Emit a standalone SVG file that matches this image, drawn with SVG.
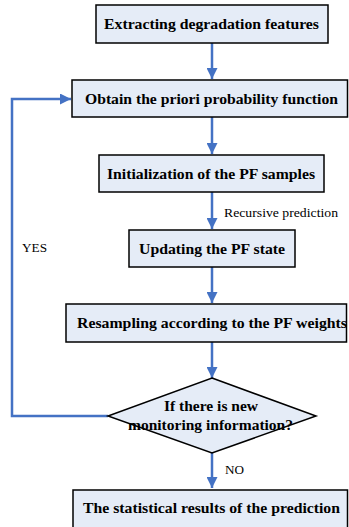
<svg xmlns="http://www.w3.org/2000/svg" width="349" height="527" viewBox="0 0 349 527">
<style>
.box{fill:#e5ecf7;stroke:#000;stroke-width:1.5}
.t{font-family:'Liberation Serif',serif;font-weight:700;font-size:15.5px;fill:#000;text-anchor:middle}
.lbl{font-family:'Liberation Serif',serif;font-size:13.5px;fill:#000}
.c{fill:none;stroke:#4472c4;stroke-width:2.5}
</style>
<defs>
<marker id="ah" viewBox="0 0 10 10" refX="10" refY="5" markerWidth="4.4" markerHeight="4.4" orient="auto" markerUnits="strokeWidth">
<path d="M0,0 L10,5 L0,10 z" fill="#4472c4"/>
</marker>
</defs>
<g id="connectors">
<path class="c" d="M212,43 V79" marker-end="url(#ah)"/>
<path class="c" d="M212,117 V154" marker-end="url(#ah)"/>
<path class="c" d="M212,192 V229" marker-end="url(#ah)"/>
<path class="c" d="M212,267 V303" marker-end="url(#ah)"/>
<path class="c" d="M212,342 V378" marker-end="url(#ah)"/>
<path class="c" d="M212,453 V488" marker-end="url(#ah)"/>
<path class="c" d="M108,416 H12 V99 H71" marker-end="url(#ah)"/>
<text class="lbl" x="224" y="217" textLength="114" lengthAdjust="spacingAndGlyphs">Recursive prediction</text>
<text class="lbl" x="22" y="252" textLength="25" lengthAdjust="spacingAndGlyphs">YES</text>
<text class="lbl" x="225" y="474" textLength="19" lengthAdjust="spacingAndGlyphs">NO</text>
</g>
<g id="n1"><rect class="box" x="96" y="5" width="232" height="38"/><text class="t" x="211.5" y="29" textLength="215" lengthAdjust="spacingAndGlyphs">Extracting degradation features</text></g>
<g id="n2"><rect class="box" x="72" y="80" width="275.5" height="37"/><text class="t" x="211.5" y="104" textLength="253" lengthAdjust="spacingAndGlyphs">Obtain the priori probability function</text></g>
<g id="n3"><rect class="box" x="99" y="155" width="225" height="37"/><text class="t" x="211" y="179" textLength="208" lengthAdjust="spacingAndGlyphs">Initialization of the PF samples</text></g>
<g id="n4"><rect class="box" x="129" y="230" width="166" height="37"/><text class="t" x="212" y="254" textLength="146" lengthAdjust="spacingAndGlyphs">Updating the PF state</text></g>
<g id="n5"><rect class="box" x="66" y="304" width="280.5" height="38"/><text class="t" x="212" y="328" textLength="270" lengthAdjust="spacingAndGlyphs">Resampling according to the PF weights</text></g>
<g id="n6"><polygon class="box" points="212,378 316,416 212,453 108,416"/><text class="t" x="211" y="411" textLength="94" lengthAdjust="spacingAndGlyphs">If there is new</text><text class="t" x="210.5" y="430" textLength="165" lengthAdjust="spacingAndGlyphs">monitoring information?</text></g>
<g id="n7"><rect class="box" x="73" y="490" width="274.5" height="45"/><text class="t" x="211.5" y="513" textLength="257" lengthAdjust="spacingAndGlyphs">The statistical results of the prediction</text></g>
</svg>
